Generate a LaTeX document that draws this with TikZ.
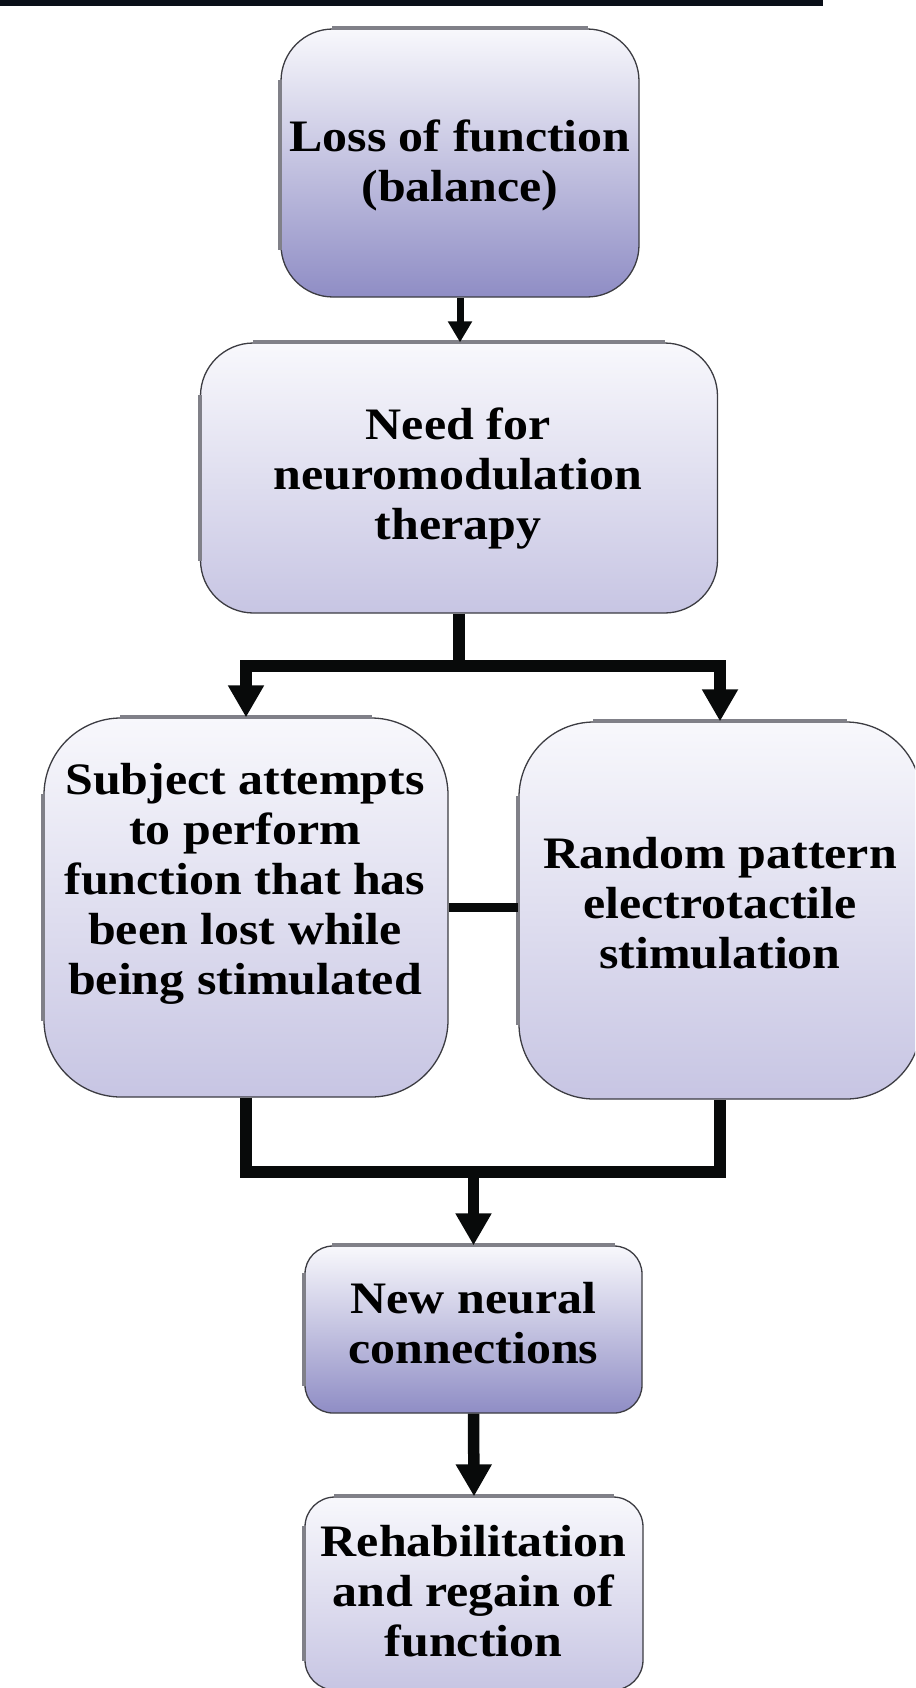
\documentclass[tikz,border=0pt]{standalone}
\usepackage{fontspec}
\newfontfamily\boxfont[FakeStretch=1.11]{Liberation Serif}
\usetikzlibrary{arrows.meta}
\definecolor{boxtop}{RGB}{248,248,252}
\definecolor{darkbot}{RGB}{143,141,197}
\definecolor{lightbot}{RGB}{199,197,227}
\definecolor{edgecol}{RGB}{60,60,66}
\definecolor{bevelcol}{RGB}{128,128,136}
\definecolor{barcol}{RGB}{10,15,24}
\definecolor{linecol}{RGB}{8,10,10}
\tikzset{
  boxbase/.style={rectangle, rounded corners=#1, draw=edgecol, line width=1.3pt, inner sep=0pt, top color=boxtop},
  darkbox/.style={boxbase=#1, bottom color=darkbot},
  lightbox/.style={boxbase=#1, bottom color=lightbot},
  bevel/.style={draw=bevelcol, line width=4pt},
  label text/.style={font=\boxfont\bfseries\fontsize{45}{50}\selectfont, align=center, inner sep=0pt, text=black},
  thinarrow/.style={draw=linecol, line width=7pt, -{Triangle[length=21pt,width=23pt]}},
  thickline/.style={draw=linecol, line width=11.5pt, line join=miter},
  thickarrow/.style={draw=linecol, line width=11.5pt, line join=miter, -{Triangle[length=32pt,width=34pt]}},
  midline/.style={draw=linecol, line width=9pt},
}
\begin{document}
\begin{tikzpicture}[x=1pt, y=-1pt]
  \useasboundingbox (0,0) rectangle (915,1688);
  \clip (0,0) rectangle (915,1688);
  % top bar
  \fill[barcol] (0,0) rectangle (823,6.5);
  % boxes
  \node[darkbox=52pt, minimum width=358pt, minimum height=268pt] (b1) at (460,163) {};
  \node[lightbox=53pt, minimum width=517pt, minimum height=270pt] (b2) at (459,478) {};
  \node[lightbox=77pt, minimum width=404pt, minimum height=379pt] (b3) at (246,907.5) {};
  \node[lightbox=75pt, minimum width=402pt, minimum height=377pt] (b4) at (720,910.5) {};
  \node[darkbox=28pt, minimum width=337pt, minimum height=167pt] (b5) at (473.5,1329.5) {};
  \node[lightbox=30pt, minimum width=338pt, minimum height=193pt] (b6) at (474,1593.5) {};
  % bevel edges (top and left)
  \draw[bevel] ([xshift=52pt]b1.north west) -- ([xshift=-52pt]b1.north east);
  \draw[bevel] ([yshift=-52pt]b1.north west) -- ([yshift=48pt]b1.south west);
  \draw[bevel] ([xshift=53pt]b2.north west) -- ([xshift=-53pt]b2.north east);
  \draw[bevel] ([yshift=-53pt]b2.north west) -- ([yshift=53pt]b2.south west);
  \draw[bevel] ([xshift=77pt]b3.north west) -- ([xshift=-77pt]b3.north east);
  \draw[bevel] ([yshift=-77pt]b3.north west) -- ([yshift=77pt]b3.south west);
  \draw[bevel] ([xshift=75pt]b4.north west) -- ([xshift=-75pt]b4.north east);
  \draw[bevel] ([yshift=-75pt]b4.north west) -- ([yshift=75pt]b4.south west);
  \draw[bevel] ([xshift=28pt]b5.north west) -- ([xshift=-28pt]b5.north east);
  \draw[bevel] ([yshift=-28pt]b5.north west) -- ([yshift=28pt]b5.south west);
  \draw[bevel] ([xshift=30pt]b6.north west) -- ([xshift=-30pt]b6.north east);
  \draw[bevel] ([yshift=-30pt]b6.north west) -- ([yshift=30pt]b6.south west);
  % texts
  \node[label text] (t1) at (460,165) {Loss of function\\(balance)};
  \node[label text] (t2) at (458,479) {Need for\\neuromodulation\\therapy};
  \node[label text] (t3) at (245,884) {Subject attempts\\to perform\\function that has\\been lost while\\being stimulated};
  \node[label text] (t4) at (720,903) {Random pattern\\electrotactile\\stimulation};
  \node[label text] (t5) at (473.5,1323) {New neural\\connections};
  \node[label text] (t6) at (473.5,1591) {Rehabilitation\\and regain of\\function};
  % connectors
  \coordinate (splitY) at (0,666);
  \coordinate (mergeY) at (0,1172);
  \coordinate (split) at (b2.south |- splitY);
  \draw[thinarrow] (b1.south) -- (b1.south |- b2.north);
  \draw[thickline] (b2.south) -- (split);
  \draw[thickarrow] (split) -| (b3.north);
  \draw[thickarrow] (split) -| (b4.north);
  \draw[midline] (b3.east) -- (b3.east -| b4.west);
  \draw[thickline] (b3.south) -- (b3.south |- mergeY) -- (b4.south |- mergeY) -- (b4.south);
  \draw[thickarrow] (b5.north |- mergeY) -- (b5.north);
  \draw[thickarrow] (b5.south) -- (b6.north);
\end{tikzpicture}
\end{document}
